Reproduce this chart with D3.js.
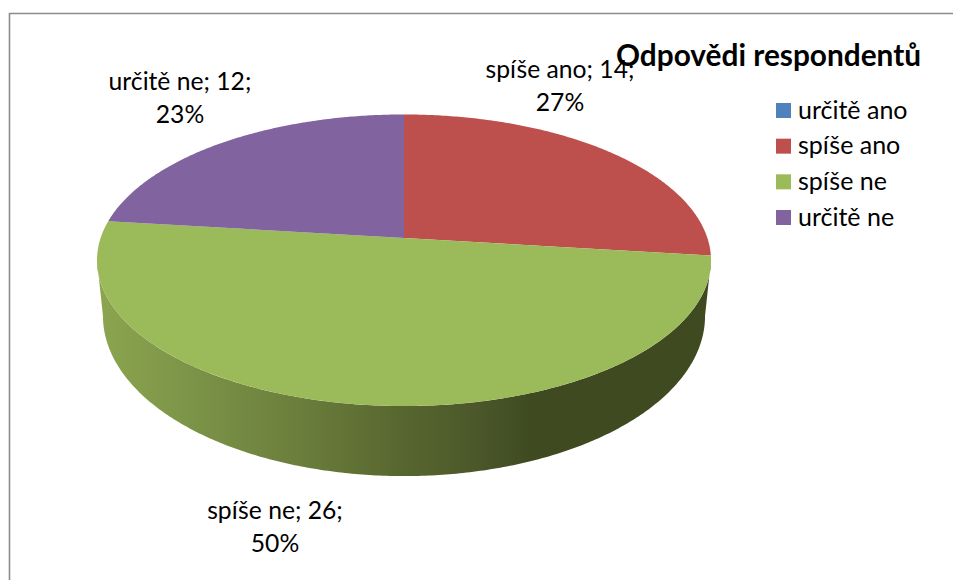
<!DOCTYPE html>
<html>
<head>
<meta charset="utf-8">
<script src="https://cdn.jsdelivr.net/npm/d3@7"></script>
<style>
  html, body { margin: 0; padding: 0; background: #fff; }
  svg { display: block; }
  text { font-family: Lato, "Open Sans", sans-serif; fill: #000; }
</style>
</head>
<body>
<div id="chart"></div>
<script>
// data
const categories = ["určitě ano", "spíše ano", "spíše ne", "určitě ne"];
const values = [0, 14, 26, 12];
const percents = ["0%", "27%", "50%", "23%"];
const colors = ["#4f81bd", "#bd4f4c", "#9bba59", "#80639f"];
const chartTitle = "Odpovědi respondentů";

const width = 953, height = 580;

// where each data label sits (x centre, first baseline)
const labelPos = { "spíše ano": [560, 78], "spíše ne": [275, 519], "určitě ne": [180, 90] };

const svg = d3.select("#chart").append("svg")
    .attr("width", width)
    .attr("height", height);

// chart frame, only top and left are visible
svg.append("path")
    .attr("d", `M9.5,${height}V13.5H${width}`)
    .attr("fill", "none")
    .attr("stroke", "#8c8c8c")
    .attr("stroke-width", 1.6);

// perspective of the disc: p makes the near half bigger than the far half
const p = 0.1527;
const topDisc = { cx: 404, cy: 238, a: 303.4, b: 142.4 };
const bottomDisc = { cx: 404, cy: 291.6, a: 297.5, b: 156.3 };

function project(disc, angle) {
    const u = Math.sin(angle), v = Math.cos(angle);
    const k = 1 + p * v;
    return [disc.cx + disc.a * u / k, disc.cy - disc.b * v / k];
}

const pie = d3.pie().sort(null).startAngle(0).endAngle(2 * Math.PI);
const slices = pie(values);

const line = d3.line();

function arcPoints(disc, a0, a1) {
    const n = Math.max(2, Math.ceil(Math.abs(a1 - a0) / 0.01));
    return d3.range(n + 1).map(i => project(disc, a0 + (a1 - a0) * i / n));
}

// side wall is only visible between the two widest points of the disc
const wallStart = Math.acos(-p);
const wallEnd = 2 * Math.PI - wallStart;

const shade = d3.scaleLinear()
    .domain([0, 0.227, 0.46, 0.695, 0.88, 1])
    .range(["#8ba44f", "#7a9246", "#6b7e3c", "#58672f", "#4b572a", "#3f4a21"]);

const defs = svg.append("defs");
const grad = defs.append("linearGradient")
    .attr("id", "wallGrad")
    .attr("gradientUnits", "userSpaceOnUse")
    .attr("x1", 103).attr("x2", 530)
    .attr("y1", 0).attr("y2", 0);
grad.selectAll("stop")
    .data(shade.domain())
    .enter().append("stop")
    .attr("offset", d => d)
    .attr("stop-color", d => shade(d));

svg.append("g").selectAll("path")
    .data(slices.filter(d => d.endAngle > wallStart && d.startAngle < wallEnd && d.value > 0))
    .enter().append("path")
    .attr("d", d => {
        const a0 = Math.max(d.startAngle, wallStart);
        const a1 = Math.min(d.endAngle, wallEnd);
        const pts = arcPoints(topDisc, a0, a1).concat(arcPoints(bottomDisc, a1, a0));
        return line(pts) + "Z";
    })
    .attr("fill", "url(#wallGrad)");

// top of the pie
svg.append("g").selectAll("path")
    .data(slices.filter(d => d.value > 0))
    .enter().append("path")
    .attr("d", d => {
        const pts = [[topDisc.cx, topDisc.cy]].concat(arcPoints(topDisc, d.startAngle, d.endAngle));
        return line(pts) + "Z";
    })
    .attr("fill", d => colors[d.index]);

// data labels
const labels = svg.append("g").selectAll("text")
    .data(slices.filter(d => d.value > 0))
    .enter().append("text")
    .attr("text-anchor", "middle")
    .attr("font-size", 24.7);
labels.append("tspan")
    .attr("x", d => labelPos[categories[d.index]][0])
    .attr("y", d => labelPos[categories[d.index]][1])
    .text(d => `${categories[d.index]}; ${d.value};`);
labels.append("tspan")
    .attr("x", d => labelPos[categories[d.index]][0])
    .attr("y", d => labelPos[categories[d.index]][1] + 33)
    .text(d => percents[d.index]);

// title goes over the label, like in the original
svg.append("text")
    .attr("x", 768.5)
    .attr("y", 66)
    .attr("text-anchor", "middle")
    .attr("font-size", 29.8)
    .attr("font-weight", 700)
    .text(chartTitle);

// legend
const legendY = d3.scalePoint()
    .domain(categories)
    .range([110.5, 217.5]);

const legend = svg.append("g").selectAll("g")
    .data(categories)
    .enter().append("g")
    .attr("transform", d => `translate(776,${legendY(d)})`);
legend.append("rect")
    .attr("x", 0).attr("y", -7.5)
    .attr("width", 15).attr("height", 15)
    .attr("fill", (d, i) => colors[i]);
legend.append("text")
    .attr("x", 22)
    .attr("y", 8)
    .attr("font-size", 25)
    .text(d => d);
</script>
</body>
</html>
